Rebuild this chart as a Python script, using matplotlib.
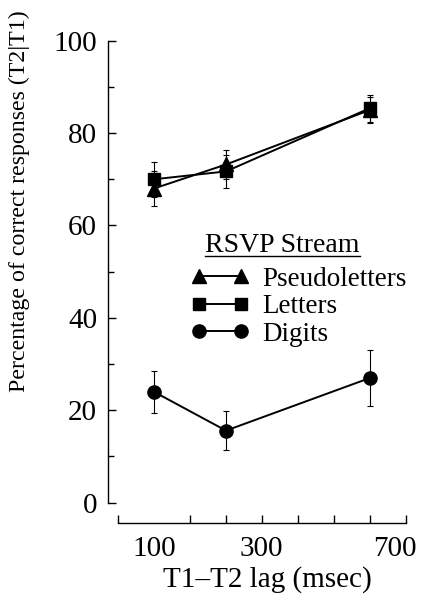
import matplotlib
matplotlib.use('Agg')
import matplotlib.pyplot as plt
import numpy as np

# data
lags = [100, 300, 700]                      # T1-T2 lag (msec)
pseudo = [68.0, 73.2, 85.0]
pseudo_err = [3.7, 3.1, 2.8]
letters = [70.0, 71.7, 85.4]
letters_err = [3.8, 3.5, 2.9]
digits = [24.0, 15.6, 27.0]
digits_err = [4.5, 4.2, 6.0]

series_labels = ['Pseudoletters', 'Letters', 'Digits']
legend_title = 'RSVP Stream'

# tick labels sit a bit off their ticks in the original
xtick_pos = [100, 397, 770]
xtick_labels = ['100', '300', '700']

plt.rcParams['font.family'] = ['Liberation Serif', 'DejaVu Serif']

fig = plt.figure(figsize=(4.26, 6.07), dpi=100)
ax = fig.add_axes([0.2542, 0.1379, 0.953 - 0.2542, 0.933 - 0.1379])

kw = dict(color='black', lw=1.4, elinewidth=0.8, capsize=2.5, capthick=0.8)
e1 = ax.errorbar(lags, pseudo, yerr=pseudo_err, marker='^', ms=10, **kw)
e2 = ax.errorbar(lags, letters, yerr=letters_err, marker='s', ms=9, **kw)
e3 = ax.errorbar(lags, digits, yerr=digits_err, marker='o', ms=9.5, **kw)

ax.set_xlim(-27, 800)
ax.set_ylim(-4.46, 100)

for s in ['top', 'right']:
    ax.spines[s].set_visible(False)
ax.spines['left'].set_bounds(0, 100)
ax.spines['bottom'].set_bounds(0, 800)
ax.spines['left'].set_linewidth(1.0)
ax.spines['bottom'].set_linewidth(1.0)

ax.set_yticks(np.arange(0, 101, 20))
ax.set_yticks(np.arange(10, 100, 20), minor=True)
ax.tick_params(axis='y', which='major', direction='in', length=6, width=1, labelsize=21, pad=8)
ax.tick_params(axis='y', which='minor', direction='in', length=4, width=1)

ax.set_xticks(np.arange(0, 801, 100), minor=True)
ax.set_xticks(xtick_pos, labels=xtick_labels)
ax.tick_params(axis='x', which='major', length=0, labelsize=21, pad=9)
ax.tick_params(axis='x', which='minor', direction='in', length=6, width=1)

ax.set_xlabel('T1\u2013T2 lag (msec)', fontsize=21)
ax.xaxis.set_label_coords(0.536, -0.088)
ax.set_ylabel('Percentage of correct responses (T2|T1)', fontsize=17.2)
ax.yaxis.set_label_coords(-0.263, 0.668)

leg = ax.legend([e1[0], e2[0], e3[0]], series_labels, numpoints=2,
                fontsize=19.5, frameon=False, loc='upper left',
                bbox_to_anchor=(0.278, 0.532), borderpad=0, borderaxespad=0,
                handlelength=2.14, handletextpad=0.48, labelspacing=0.1)

# legend heading, underlined
title = ax.text(0.585, 0.562, legend_title, fontsize=20, ha='center', va='baseline',
                transform=ax.transAxes)
fig.canvas.draw()
bb = title.get_window_extent().transformed(ax.transAxes.inverted())
ax.plot([bb.x0, bb.x1], [0.554, 0.554], color='black', lw=1.0,
        transform=ax.transAxes, clip_on=False)

fig.savefig('out.png', dpi=100)
